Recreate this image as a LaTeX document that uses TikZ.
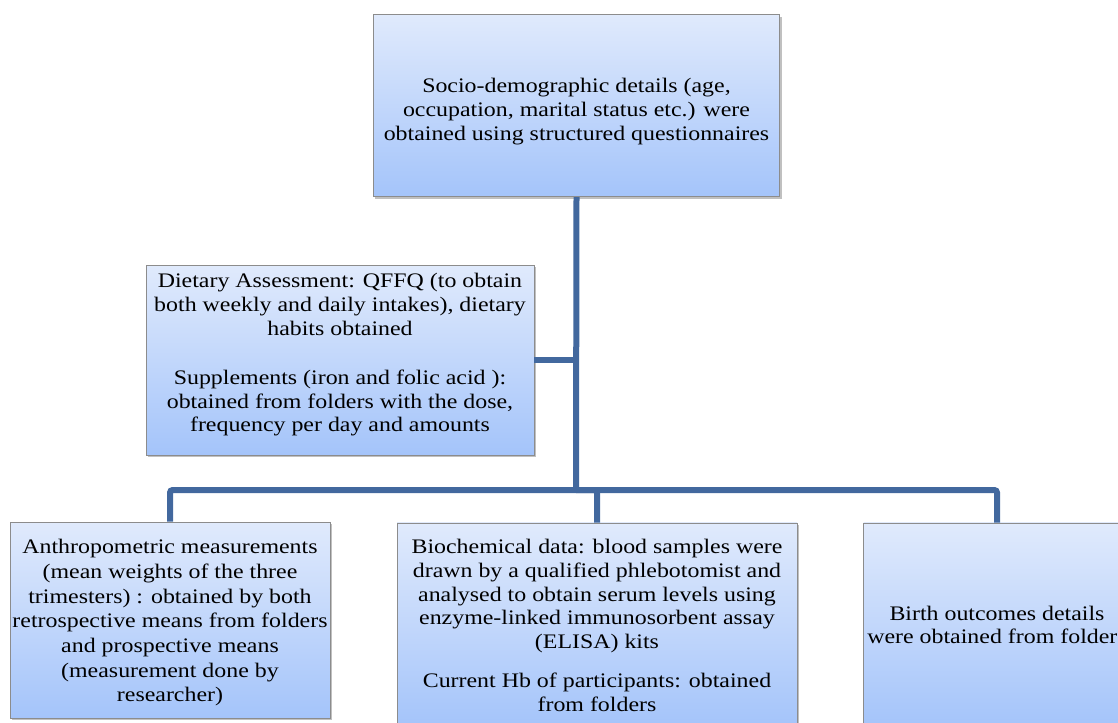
\documentclass[tikz,border=0pt]{standalone}
\usepackage{fontspec}
\setmainfont{Liberation Serif}[FakeStretch=1.156]
\usetikzlibrary{shadows}
\definecolor{linkblue}{RGB}{66,104,158}
\definecolor{boxtop}{RGB}{224,234,252}
\definecolor{boxbot}{RGB}{164,196,250}
\definecolor{boxedge}{RGB}{140,140,140}
\tikzset{
  infobox/.style={draw=boxedge, line width=0.6pt, top color=boxtop, bottom color=boxbot,
    drop shadow={shadow xshift=1.6pt, shadow yshift=-1.8pt, fill=black!45, opacity=0.55},
    inner sep=0pt},
  boxtext/.style={align=center, inner sep=0pt, font=\fontsize{15.5pt}{17.8pt}\selectfont},
  link/.style={draw=linkblue, line width=4.5pt, rounded corners=2pt}
}
\begin{document}
\begin{tikzpicture}[x=0.75pt,y=-0.75pt]
\useasboundingbox (0,0) rectangle (1118,722);
\clip (0,0) rectangle (1118,722);
% boxes
\node[infobox, minimum width=305pt, minimum height=137pt] (top) at (576.5,105.5) {};
\node[infobox, minimum width=291pt, minimum height=142.5pt] (diet) at (340,360) {};
\node[infobox, minimum width=240pt, minimum height=147pt] (anthro) at (170,620) {};
\node[infobox, minimum width=300pt, minimum height=153pt, anchor=north] (bio) at (597,522.5) {};
\node[infobox, minimum width=200pt, minimum height=153pt, anchor=north] (birth) at (997,522.5) {};
% texts
\node[boxtext] (toptext) at (576.5,111.5)
  {Socio-demographic details (age,\\ occupation, marital status etc.) were\\ obtained using structured questionnaires};
\node[boxtext] (diettext) at (340,355)
  {Dietary Assessment: QFFQ (to obtain\\ both weekly and daily intakes), dietary\\ habits obtained\\[19pt]
   Supplements (iron and folic acid ):\\ obtained from folders with the dose,\\ frequency per day and amounts};
\node[boxtext, font=\fontsize{15.5pt}{18.5pt}\selectfont] (anthrotext) at (170,623)
  {Anthropometric measurements\\ (mean weights of the three\\ trimesters) : obtained by both\\ retrospective means from folders\\ and prospective means\\ (measurement done by\\ researcher)};
\node[boxtext, anchor=north] (biotext) at (597,539)
  {Biochemical data: blood samples were\\ drawn by a qualified phlebotomist and\\ analysed to obtain serum levels using\\ enzyme-linked immunosorbent assay\\ (ELISA) kits\\[11.75pt]
   Current Hb of participants: obtained\\ from folders};
\node[boxtext] (birthtext) at (997,625)
  {Birth outcomes details\\ were obtained from folders};
% connectors
\coordinate (j) at (576,490);
\draw[link] (top.south) -- (j);
\draw[link] (diet.east) -- (diet.east -| top.south);
\draw[link] (j) -| (anthro.north);
\draw[link] (j) -| (bio.north);
\draw[link] (j) -| (birth.north);
\end{tikzpicture}
\end{document}
